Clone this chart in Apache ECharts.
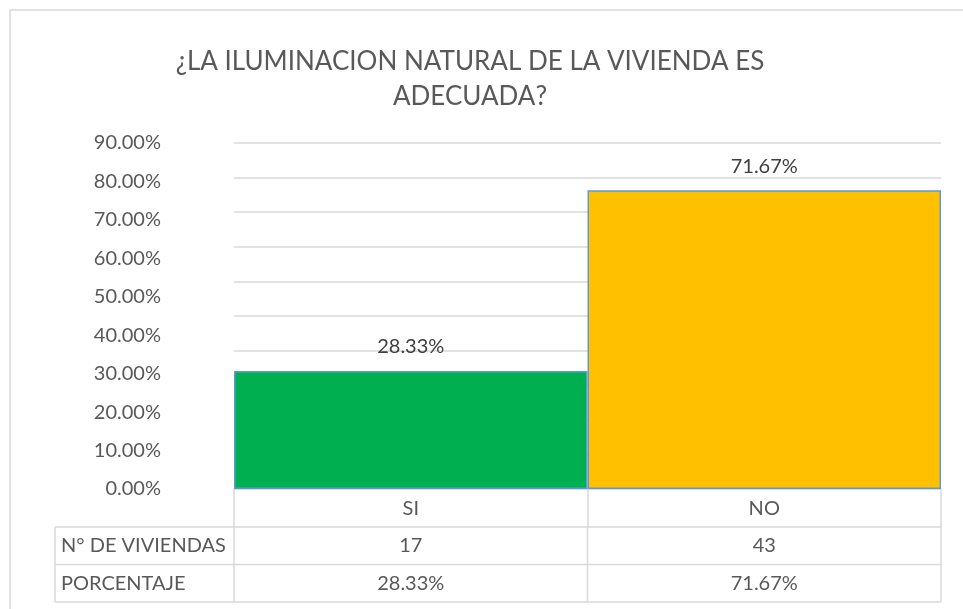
<!DOCTYPE html>
<html>
<head>
<meta charset="utf-8">
<title>Iluminacion natural</title>
<script src="https://cdn.jsdelivr.net/npm/echarts@6/dist/echarts.min.js"></script>
<style>
    html, body { margin: 0; padding: 0; background: #fff; }
    #chart { width: 963px; height: 609px; }
</style>
</head>
<body>
<div id="chart"></div>
<script>
// datos
var categorias = ['SI', 'NO'];
var viviendas = [17, 43];
var porcentajes = [28.33, 71.67];
var filas = ['N° DE VIVIENDAS', 'PORCENTAJE'];
var colores = ['#00b050', '#ffc000'];

var fuente = 'Lato';
var gris = '#595959';
var linea = '#d9d9d9';
var tam = 20;

function pct(v) {
    return v.toFixed(2) + '%';
}

var myChart = echarts.init(document.getElementById('chart'));

var option = {
    animation: false,
    grid: { left: 234, right: 22, top: 143, bottom: 120 },
    xAxis: {
        type: 'category',
        data: categorias,
        axisLine: { lineStyle: { color: linea, width: 1.5 } },
        axisTick: { show: true, length: 38, lineStyle: { color: linea, width: 1.5 } },
        axisLabel: { color: gris, fontFamily: fuente, fontSize: tam, margin: 10 }
    },
    yAxis: [{
        // etiquetas
        type: 'value',
        min: 0, max: 90, interval: 10,
        axisLine: { show: false },
        axisTick: { show: false },
        splitLine: { show: false },
        axisLabel: {
            color: gris, fontFamily: fuente, fontSize: tam, margin: 73,
            formatter: function (v) { return pct(v); }
        }
    }, {
        // lineas de division
        type: 'value',
        min: -10, max: 90, interval: 10,
        axisLine: { show: false },
        axisTick: { show: false },
        axisLabel: { show: false },
        splitLine: { lineStyle: { color: linea, width: 1.5 } }
    }, {
        // escala de las barras
        type: 'value',
        min: 0, max: 83,
        show: false,
        splitLine: { show: false }
    }],
    series: [{
        type: 'bar',
        yAxisIndex: 2,
        barWidth: '100%',
        data: porcentajes.map(function (v, i) {
            return { value: v, itemStyle: { color: colores[i] } };
        }),
        itemStyle: { borderColor: '#5b9bd5', borderWidth: 1.5 },
        label: {
            show: true,
            position: 'top',
            distance: 14,
            color: '#404040',
            fontFamily: fuente,
            fontSize: tam,
            formatter: function (p) { return pct(p.value); }
        }
    }]
};
myChart.setOption(option);

// tabla de datos y titulo
function tabla() {
    var x0 = 55;
    var xs = [234];
    categorias.forEach(function (c, i) {
        xs.push(myChart.convertToPixel({ xAxisIndex: 0 }, i) * 2 - xs[i]);
    });
    var xFin = xs[xs.length - 1];
    var ys = [527, 564.5, 602];
    var g = [];
    ys.forEach(function (y) {
        g.push({ type: 'line', shape: { x1: x0, y1: y, x2: xFin, y2: y }, style: { stroke: linea, lineWidth: 1.5 } });
    });
    [x0].concat(xs).forEach(function (x) {
        g.push({ type: 'line', shape: { x1: x, y1: ys[0], x2: x, y2: ys[2] }, style: { stroke: linea, lineWidth: 1.5 } });
    });
    filas.forEach(function (f, r) {
        var yc = (ys[r] + ys[r + 1]) / 2;
        g.push({ type: 'text', x: 61, y: yc, style: { text: f, fill: gris, font: tam + 'px ' + fuente, textVerticalAlign: 'middle' } });
        categorias.forEach(function (c, i) {
            var xc = myChart.convertToPixel({ xAxisIndex: 0 }, i);
            var t = r === 0 ? String(viviendas[i]) : pct(porcentajes[i]);
            g.push({ type: 'text', x: xc, y: yc, style: { text: t, fill: gris, font: tam + 'px ' + fuente, textAlign: 'center', textVerticalAlign: 'middle' } });
        });
    });
    // marco
    g.push({ type: 'rect', shape: { x: 10, y: 10, width: 980, height: 640 }, style: { fill: 'none', stroke: linea, lineWidth: 1.5 } });
    // titulo
    g.push({ type: 'text', x: 470, y: 62, style: { text: '¿LA ILUMINACION NATURAL DE LA VIVIENDA ES', fill: gris, font: '26px ' + fuente, textAlign: 'center', textVerticalAlign: 'middle' } });
    g.push({ type: 'text', x: 470, y: 97, style: { text: 'ADECUADA?', fill: gris, font: '26px ' + fuente, textAlign: 'center', textVerticalAlign: 'middle' } });
    myChart.setOption({ graphic: g });
}
tabla();
</script>
</body>
</html>
